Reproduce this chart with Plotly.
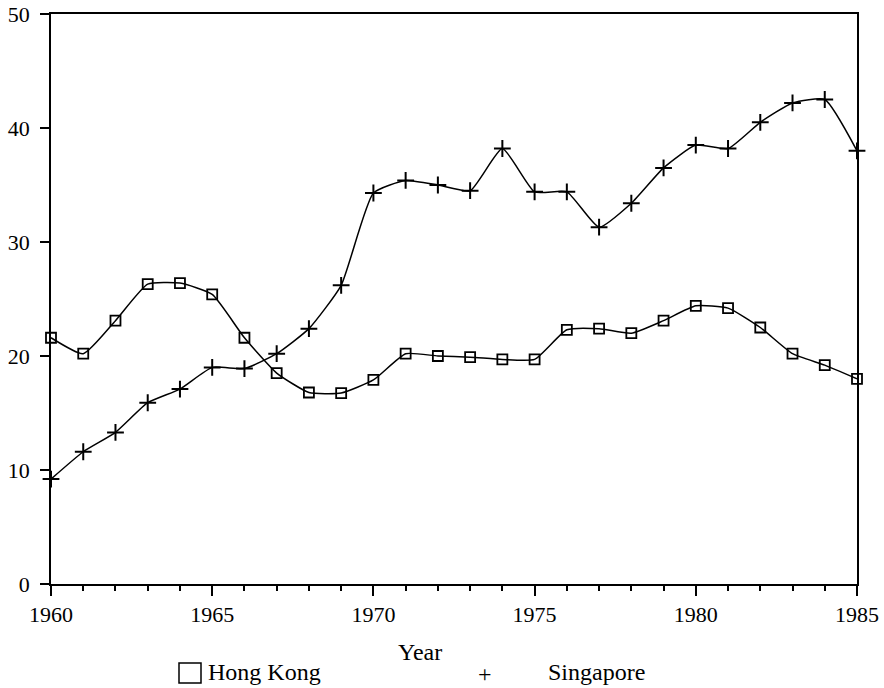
import plotly.graph_objects as go

years = list(range(1960, 1986))
hong_kong = [21.6, 20.2, 23.1, 26.3, 26.4, 25.4, 21.6, 18.5, 16.8, 16.75, 17.9, 20.2, 20.0, 19.9, 19.7, 19.7,
             22.3, 22.4, 22.0, 23.1, 24.4, 24.2, 22.5, 20.2, 19.2, 18.0]
singapore = [9.2, 11.6, 13.3, 15.9, 17.1, 19.0, 18.9, 20.2, 22.4, 26.2, 34.3, 35.4, 35.0, 34.5, 38.2, 34.4,
             34.4, 31.3, 33.4, 36.5, 38.5, 38.2, 40.5, 42.2, 42.5, 38.0]
x_ticks = [1960, 1965, 1970, 1975, 1980, 1985]
y_ticks = [0, 10, 20, 30, 40, 50]

FONT = "Liberation Serif"

fig = go.Figure()
fig.add_trace(go.Scatter(
    x=years, y=hong_kong, name="Hong Kong", mode="lines+markers",
    line=dict(color="black", width=1.5, shape="spline", smoothing=0.5),
    marker=dict(symbol="square-open", size=10, color="black", line=dict(width=1.8, color="black")),
    showlegend=False, cliponaxis=False,
))
fig.add_trace(go.Scatter(
    x=years, y=singapore, name="Singapore", mode="lines+markers",
    line=dict(color="black", width=1.5, shape="spline", smoothing=0.5),
    marker=dict(symbol="cross-thin-open", size=12, color="black", line=dict(width=2, color="black")),
    showlegend=False, cliponaxis=False,
))

fig.update_layout(
    width=884, height=688,
    margin=dict(l=51, r=27, t=14, b=104, autoexpand=False),
    paper_bgcolor="white", plot_bgcolor="white",
    font=dict(family=FONT, size=22, color="black"),
    xaxis=dict(
        range=[1960, 1985], tickvals=x_ticks, ticktext=[str(v) for v in x_ticks],
        ticks="outside", ticklen=10, tickwidth=1.5, tickcolor="black",
        minor=dict(dtick=1, ticks="outside", ticklen=5, tickwidth=1.5, tickcolor="black"),
        showline=True, linecolor="black", linewidth=1.8, mirror=True, automargin=False,
        showgrid=False, zeroline=False, tickfont=dict(family=FONT, size=22),
    ),
    yaxis=dict(
        range=[0, 50], tickvals=y_ticks,
        ticks="outside", ticklen=9, tickwidth=1.5, tickcolor="black",
        ticklabelstandoff=6,
        showline=True, linecolor="black", linewidth=1.8, mirror=True, automargin=False,
        showgrid=False, zeroline=False, tickfont=dict(family=FONT, size=22),
    ),
)

# pixel positions -> paper coordinates of the plot area
def px(xp):
    return (xp - 51) / 806
def py(yp):
    return (584 - yp) / 570

fig.add_annotation(text="Year", x=px(420), y=py(652), xref="paper", yref="paper",
                   showarrow=False, font=dict(family=FONT, size=24), xanchor="center", yanchor="middle")
fig.add_shape(type="rect", xref="paper", yref="paper",
              x0=px(179), x1=px(201), y0=py(683), y1=py(663),
              line=dict(color="black", width=1.5), fillcolor="rgba(0,0,0,0)")
fig.add_annotation(text="Hong Kong", x=px(206), y=py(672), xref="paper", yref="paper",
                   showarrow=False, font=dict(family=FONT, size=24), xanchor="left", yanchor="middle")
fig.add_annotation(text="+", x=px(485), y=py(674), xref="paper", yref="paper",
                   showarrow=False, font=dict(family=FONT, size=24), xanchor="center", yanchor="middle")
fig.add_annotation(text="Singapore", x=px(546), y=py(672), xref="paper", yref="paper",
                   showarrow=False, font=dict(family=FONT, size=24), xanchor="left", yanchor="middle")

fig.write_html("out.html", config={"displayModeBar": False},
               post_script="document.body.style.margin='0';")
